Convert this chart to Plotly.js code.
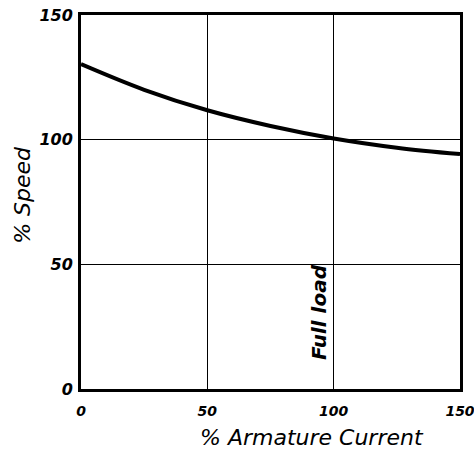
<!DOCTYPE html>
<html><head><meta charset="utf-8">
<script src="https://cdn.plot.ly/plotly-3.0.1.min.js"></script>
<style>html,body{margin:0;padding:0;background:#fff;}</style>
</head><body>
<div id="chart" style="width:474px;height:452px;"></div>
<script>
var armatureCurrent = [0, 25, 50, 75, 100, 125, 150];
var speedPct = [130.3, 120, 111.8, 105.5, 100.5, 96.8, 94.2];
var xTicks = [0, 50, 100, 150];
var yTicks = [0, 50, 100, 150];
var fontFam = "DejaVu Sans, sans-serif";

var trace = {
  x: armatureCurrent, y: speedPct, mode: 'lines', type: 'scatter',
  line: {color: '#000', width: 4, shape: 'spline', smoothing: 1}, hoverinfo: 'none'
};
var layout = {
  width: 474, height: 452,
  margin: {l: 81, r: 14, t: 15, b: 63},
  paper_bgcolor: '#fff', plot_bgcolor: '#fff',
  showlegend: false,
  xaxis: {
    range: [0, 150], tickvals: xTicks, ticktext: xTicks.map(String),
    showgrid: true, gridcolor: '#000', gridwidth: 1.5,
    zeroline: false, showline: true, linecolor: '#000', linewidth: 3, mirror: true,
    ticks: '', tickfont: {family: fontFam, size: 14, color: '#000', style: 'italic', weight: 'bold'},
    ticklabelstandoff: 7, ticklabeloverflow: 'allow'
  },
  yaxis: {
    range: [0, 150], tickvals: yTicks, ticktext: yTicks.map(String),
    showgrid: true, gridcolor: '#000', gridwidth: 1.5,
    zeroline: false, showline: true, linecolor: '#000', linewidth: 3, mirror: true,
    ticks: '', tickfont: {family: fontFam, size: 16, color: '#000', style: 'italic', weight: 'bold'},
    ticklabelstandoff: 2, ticklabeloverflow: 'allow'
  },
  annotations: [
    {text: '% Armature Current', xref: 'paper', yref: 'paper', x: 0.61, y: -0.13,
     xanchor: 'center', yanchor: 'middle', showarrow: false,
     font: {family: fontFam, size: 22, color: '#000', style: 'italic'}},
    {text: '% Speed', xref: 'paper', yref: 'paper', x: -0.155, y: 0.52,
     xanchor: 'center', yanchor: 'middle', showarrow: false, textangle: -90,
     font: {family: fontFam, size: 22, color: '#000', style: 'italic'}},
    {text: 'Full load', xref: 'x', yref: 'y', x: 99.5, y: 31, xanchor: 'right', yanchor: 'middle',
     showarrow: false, textangle: -90,
     font: {family: fontFam, size: 20, color: '#000', style: 'italic', weight: 'bold'}}
  ]
};
Plotly.newPlot('chart', [trace], layout, {staticPlot: true, displayModeBar: false});
</script>
</body></html>
